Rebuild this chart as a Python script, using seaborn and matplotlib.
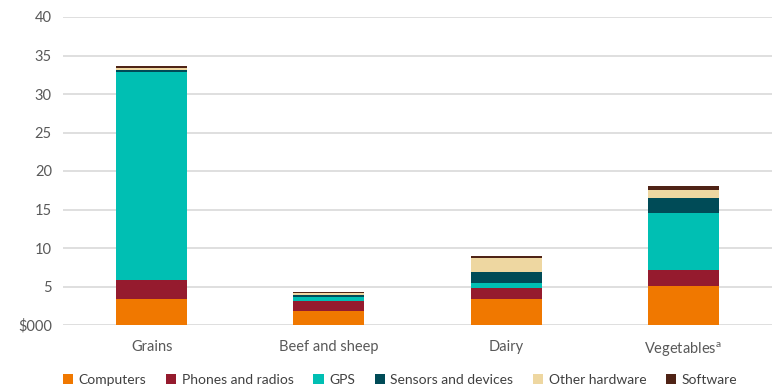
import matplotlib
matplotlib.use("Agg")
import matplotlib.pyplot as plt
import seaborn as sns
import pandas as pd
import numpy as np
from matplotlib.patches import Patch

categories = ["Grains", "Beef and sheep", "Dairy", "Vegetables$^\\mathregular{a}$"]
series_names = ["Computers", "Phones and radios", "GPS", "Sensors and devices", "Other hardware", "Software"]
computers = [3.33, 1.82, 3.33, 5.05]
phones = [2.50, 1.30, 1.50, 2.15]
gps = [27.0, 0.55, 0.57, 7.35]
sensors = [0.25, 0.25, 1.50, 1.90]
other_hw = [0.35, 0.20, 1.85, 1.05]
software = [0.15, 0.15, 0.22, 0.60]
y_ticks = [0, 5, 10, 15, 20, 25, 30, 35, 40]
y_tick_labels = ["$000", "5", "10", "15", "20", "25", "30", "35", "40"]
colors = ["#F07800", "#951B2E", "#00BFB3", "#004B57", "#EED7A1", "#4F2316"]

sns.set_theme(style="white")
plt.rcParams["font.family"] = ["Lato", "DejaVu Sans"]

series = [computers, phones, gps, sensors, other_hw, software]
df = pd.DataFrame({name: vals for name, vals in zip(series_names, series)})
df["category"] = categories
cum = df[series_names].cumsum(axis=1)
cum["category"] = categories

fig = plt.figure(figsize=(7.74, 3.88), dpi=100)
ax = fig.add_axes([63 / 774, 1 - 325 / 388, (772 - 63) / 774, (325 - 17) / 388])

for name, col in reversed(list(zip(series_names, colors))):
    sns.barplot(data=cum, x="category", y=name, color=col, width=0.4,
                saturation=1, ax=ax, zorder=3, linewidth=0)

ax.set_ylim(0, 40)
ax.set_xlim(-0.5, 3.5)
ax.set_yticks(y_ticks)
ax.set_yticklabels(y_tick_labels)
ax.set_xlabel("")
ax.set_ylabel("")
ax.yaxis.grid(True, color="#D9D9D9", linewidth=1.2, zorder=0)
ax.set_axisbelow(True)
for s in ax.spines.values():
    s.set_visible(False)
ax.tick_params(axis="both", length=0, labelsize=10.5, colors="#595959", pad=8)
ax.tick_params(axis="x", pad=11)

handles = [Patch(facecolor=c, edgecolor="none", label=n) for n, c in zip(series_names, colors)]
fig.legend(handles=handles, loc="center", bbox_to_anchor=(0.517, 0.02), ncol=6,
           frameon=False, fontsize=10, handlelength=0.75, handleheight=0.75,
           handletextpad=0.4, columnspacing=1.4, labelcolor="#404040")

fig.savefig("out.png", dpi=100)
